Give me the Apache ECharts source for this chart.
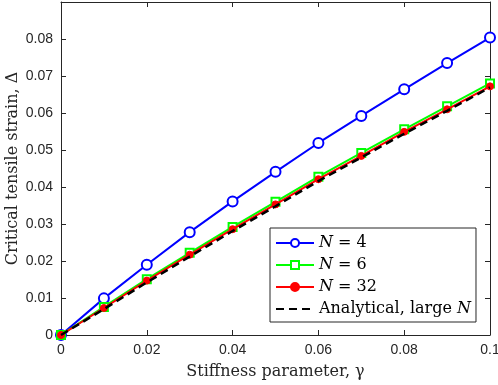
<!DOCTYPE html>
<html>
<head>
<meta charset="utf-8">
<script src="https://cdn.jsdelivr.net/npm/echarts@6/dist/echarts.min.js"></script>
<style>
  html, body { margin: 0; padding: 0; background: #fff; }
  #chart { width: 498px; height: 385px; }
</style>
</head>
<body>
<div id="chart"></div>
<script>
// stiffness parameter (x)
const gamma = [0, 0.01, 0.02, 0.03, 0.04, 0.05, 0.06, 0.07, 0.08, 0.09, 0.1];
// critical strain
const n4 = [0, 0.0099, 0.0190, 0.0278, 0.0361, 0.0441, 0.0519, 0.0592, 0.0664, 0.0735, 0.0804];
const n6 = [0, 0.0076, 0.0151, 0.0222, 0.0292, 0.0360, 0.0428, 0.0492, 0.0556, 0.0618, 0.0680];
const n32 = [0, 0.0073, 0.0147, 0.0217, 0.0286, 0.0353, 0.0421, 0.0484, 0.0549, 0.0610, 0.0672];
// analytical, large N (sits just under N = 32)
const ana = [0, 0.0070, 0.0142, 0.0212, 0.0281, 0.0348, 0.0416, 0.0480, 0.0544, 0.0606, 0.0669];

const xTicks = ["0", "0.02", "0.04", "0.06", "0.08", "0.1"];
const yTicks = ["0", "0.01", "0.02", "0.03", "0.04", "0.05", "0.06", "0.07", "0.08"];

const pairs = (xs, ys) => xs.map((x, i) => [x, ys[i]]);

const axisCol = "#262626";
const serif = "DejaVu Serif";

const myChart = echarts.init(document.getElementById("chart"));

const xFmt = (v) => {
  const s = String(+v.toFixed(2));
  return xTicks.includes(s) ? s : "";
};
const yFmt = (v) => {
  const s = v === 0 ? "0" : v.toFixed(2);
  return yTicks.includes(s) ? s : "";
};

const baseX = {
  type: "value",
  min: 0,
  max: 0.1,
  interval: 0.02,
  splitLine: { show: false },
  axisLine: { onZero: false, lineStyle: { color: axisCol, width: 1 } },
  axisTick: { inside: true, length: 5, lineStyle: { color: axisCol } },
};
const baseY = {
  type: "value",
  min: 0,
  max: 0.09,
  interval: 0.01,
  splitLine: { show: false },
  axisLine: { onZero: false, lineStyle: { color: axisCol, width: 1 } },
  axisTick: { inside: true, length: 5, lineStyle: { color: axisCol } },
};

const option = {
  animation: false,
  backgroundColor: "#fff",
  grid: { left: 61, right: 8, top: 2, bottom: 50, outerBoundsMode: "none" },
  legend: {
    orient: "vertical",
    left: 270,
    top: 228,
    padding: [7, 5, 5, 5],
    itemWidth: 38,
    itemHeight: 10,
    itemGap: 6,
    backgroundColor: "#fff",
    borderColor: "#262626",
    borderWidth: 1,
    borderRadius: 0,
    data: ["N4", "N6", "N32", { name: "ana", itemStyle: { opacity: 0 } }],
    formatter: (name) => ({
      N4: "{i|N} = 4",
      N6: "{i|N} = 6",
      N32: "{i|N} = 32",
      ana: "Analytical, large {i|N}",
    })[name],
    textStyle: {
      fontFamily: serif,
      fontSize: 16,
      color: "#000",
      rich: {
        i: { fontFamily: serif, fontStyle: "italic", fontSize: 16, color: "#000" },
      },
    },
  },
  xAxis: [
    Object.assign({}, baseX, {
      position: "bottom",
      name: "Stiffness parameter, γ",
      nameLocation: "middle",
      nameGap: 29,
      nameMoveOverlap: false,
      nameTextStyle: { fontFamily: serif, fontSize: 16, color: axisCol },
      axisLabel: {
        formatter: xFmt,
        fontFamily: "Liberation Sans",
        fontSize: 14,
        color: axisCol,
        margin: 8,
      },
    }),
    Object.assign({}, baseX, { position: "top", axisLabel: { show: false } }),
  ],
  yAxis: [
    Object.assign({}, baseY, {
      position: "left",
      name: "Critical tensile strain, Δ",
      nameLocation: "middle",
      nameGap: 40,
      nameMoveOverlap: false,
      nameTextStyle: { fontFamily: serif, fontSize: 16, color: axisCol },
      axisLabel: {
        formatter: yFmt,
        fontFamily: "Liberation Sans",
        fontSize: 14,
        color: axisCol,
        margin: 8,
      },
    }),
    Object.assign({}, baseY, { position: "right", axisLabel: { show: false } }),
  ],
  series: [
    {
      name: "N4",
      type: "line",
      data: pairs(gamma, n4),
      symbol: "circle",
      symbolSize: 10,
      color: "#0000ff",
      lineStyle: { color: "#0000ff", width: 2 },
      itemStyle: { color: "#fff", borderColor: "#0000ff", borderWidth: 2 },
      z: 2,
    },
    {
      name: "N6",
      type: "line",
      data: pairs(gamma, n6),
      symbol: "rect",
      symbolSize: 8,
      color: "#00ff00",
      lineStyle: { color: "#00ff00", width: 2 },
      itemStyle: { color: "#fff", borderColor: "#00ff00", borderWidth: 2 },
      z: 3,
    },
    {
      name: "N32",
      type: "line",
      data: pairs(gamma, n32),
      symbol: "circle",
      symbolSize: 7,
      color: "#ff0000",
      lineStyle: { color: "#ff0000", width: 2 },
      itemStyle: { color: "#ff0000", borderColor: "#ff0000", borderWidth: 1 },
      z: 4,
    },
    {
      name: "ana",
      type: "line",
      data: pairs(gamma, ana),
      symbol: "none",
      color: "#000",
      lineStyle: { color: "#000", width: 2.5, type: [8, 5] },
      z: 5,
    },
  ],
};

myChart.setOption(option);
</script>
</body>
</html>
